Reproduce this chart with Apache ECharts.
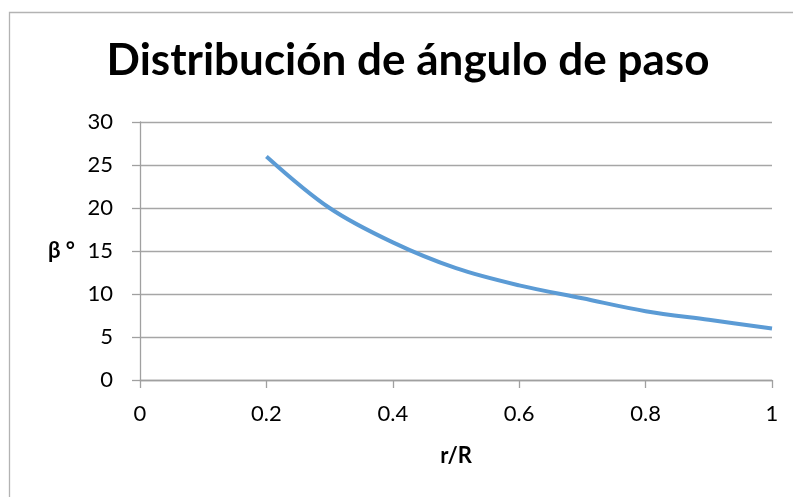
<!DOCTYPE html>
<html>
<head>
<meta charset="utf-8">
<script src="https://cdn.jsdelivr.net/npm/echarts@6/dist/echarts.min.js"></script>
<style>
html,body{margin:0;padding:0;background:#fff;}
#chart{width:793px;height:497px;}
</style>
</head>
<body>
<div id="chart"></div>
<script>
var titleText = 'Distribución de ángulo de paso';
var xName = 'r/R';
var yName = 'β °';
var rValues = [0.2, 0.3, 0.4, 0.5, 0.6, 0.7, 0.8, 0.9, 1.0];
var betaValues = [26, 20, 16, 13, 11, 9.5, 8, 7, 6];

var seriesData = rValues.map(function (r, i) { return [r, betaValues[i]]; });

var chart = echarts.init(document.getElementById('chart'), null, {renderer: 'canvas'});
var FONT = 'Lato';
chart.setOption({
  animation: false,
  backgroundColor: '#ffffff',
  graphic: [
    {type: 'rect', left: 7, top: 10, shape: {width: 800, height: 500},
     style: {fill: 'none', stroke: '#b3b3b3', lineWidth: 1.3}, z: -1},
    {type: 'text', x: 408, y: 61,
     style: {text: titleText, font: 'bold 44px Lato', fill: '#000', align: 'center', verticalAlign: 'middle'}}
  ],
  grid: {left: 140, right: 21, top: 122, bottom: 117, containLabel: false},
  xAxis: {
    type: 'value', min: 0, max: 1, interval: 0.2,
    name: xName, nameLocation: 'middle', nameGap: 65,
    nameTextStyle: {fontFamily: FONT, fontWeight: 'bold', fontSize: 22, color: '#000'},
    axisLine: {show: true, lineStyle: {color: '#a0a0a0', width: 1.3}},
    axisTick: {show: true, length: 8, inside: false, lineStyle: {color: '#a0a0a0', width: 1.3}},
    axisLabel: {fontFamily: FONT, fontSize: 22, color: '#000', margin: 23,
      formatter: function (v) { return String(Math.round(v * 10) / 10); }},
    splitLine: {show: false}
  },
  yAxis: {
    type: 'value', min: 0, max: 30, interval: 5,
    name: yName, nameLocation: 'middle', nameGap: 65, nameRotate: 0,
    nameTextStyle: {fontFamily: FONT, fontWeight: 'bold', fontSize: 22, color: '#000'},
    axisLine: {show: true, lineStyle: {color: '#a0a0a0', width: 1.3}},
    axisTick: {show: true, length: 8, inside: false, lineStyle: {color: '#a0a0a0', width: 1.3}},
    axisLabel: {fontFamily: FONT, fontSize: 22, color: '#000', margin: 27},
    splitLine: {show: true, lineStyle: {color: '#a6a6a6', width: 1.3}}
  },
  series: [{
    type: 'line',
    data: seriesData,
    smooth: 0.35,
    showSymbol: false,
    symbol: 'none',
    lineStyle: {color: '#5b9bd5', width: 4},
    itemStyle: {color: '#5b9bd5'}
  }]
});
</script>
</body>
</html>
